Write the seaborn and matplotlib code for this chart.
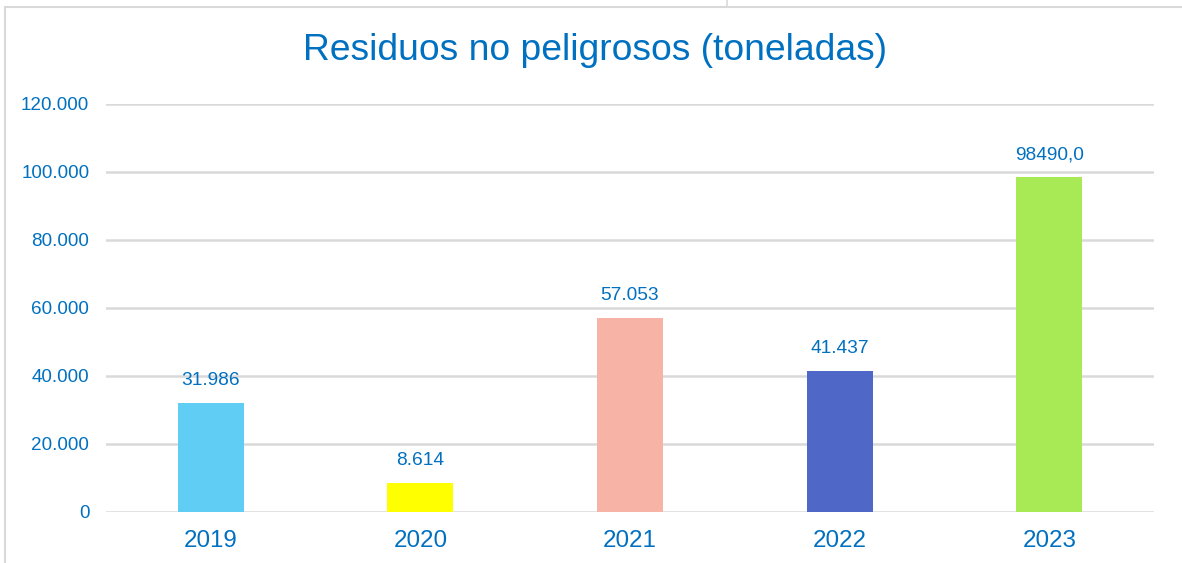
import matplotlib
matplotlib.use("Agg")
import matplotlib.pyplot as plt
import seaborn as sns
import pandas as pd
from matplotlib.lines import Line2D

years = ["2019", "2020", "2021", "2022", "2023"]
values = [31986, 8614, 57053, 41437, 98490.0]
labels = ["31.986", "8.614", "57.053", "41.437", "98490,0"]
colors = ["#5FCDF4", "#FFFF00", "#F7B3A5", "#4F67C6", "#A8EA55"]
yticks = [0, 20000, 40000, 60000, 80000, 100000, 120000]
ytick_labels = ["0", "20.000", "40.000", "60.000", "80.000", "100.000", "120.000"]
title = "Residuos no peligrosos (toneladas)"

text_color = "#0070C0"
grid_color = "#D9D9D9"

sns.set_theme(style="white")
plt.rcParams["font.family"] = ["Liberation Sans", "DejaVu Sans"]

fig = plt.figure(figsize=(11.82, 5.63), dpi=100)
ax = fig.add_axes([106 / 1182, 1 - 512 / 563, (1154 - 106) / 1182, (512 - 104) / 563])

df = pd.DataFrame({"year": years, "value": values})
sns.barplot(data=df, x="year", y="value", hue="year", palette=colors,
            dodge=False, width=0.315, legend=False, ax=ax, saturation=1,
            linewidth=0)

ax.set_xlim(-0.5, 4.5)
ax.set_ylim(0, 120000)
ax.set_yticks(yticks)
ax.set_yticklabels(ytick_labels)
ax.set_xlabel("")
ax.set_ylabel("")
for s in ax.spines.values():
    s.set_visible(False)
ax.set_axisbelow(True)
ax.yaxis.grid(True, color=grid_color, linewidth=1.8)
ax.xaxis.grid(False)
ax.tick_params(axis="y", length=0, pad=12, labelsize=13.6, labelcolor=text_color)
ax.tick_params(axis="x", length=0, pad=13, labelsize=17.4, labelcolor=text_color)

for patch, lab in zip(ax.patches, labels):
    x = patch.get_x() + patch.get_width() / 2
    h = patch.get_height()
    ax.annotate(lab, (x, h), xytext=(0, 10), textcoords="offset points",
                ha="center", va="bottom", fontsize=13.8, color=text_color)

fig.text(0.503, 1 - 51 / 563, title, ha="center", va="center",
         fontsize=26.8, color=text_color)

# outer frame lines
fig.add_artist(Line2D([5 / 1182, 5 / 1182], [0, 1 - 7 / 563], color=grid_color,
                      linewidth=1.5, transform=fig.transFigure))
fig.add_artist(Line2D([5 / 1182, 1], [1 - 7 / 563, 1 - 7 / 563], color=grid_color,
                      linewidth=1.5, transform=fig.transFigure))
fig.add_artist(Line2D([727 / 1182, 727 / 1182], [1 - 7 / 563, 1], color=grid_color,
                      linewidth=1.2, transform=fig.transFigure))

fig.savefig("out.png", dpi=100, facecolor="white")
